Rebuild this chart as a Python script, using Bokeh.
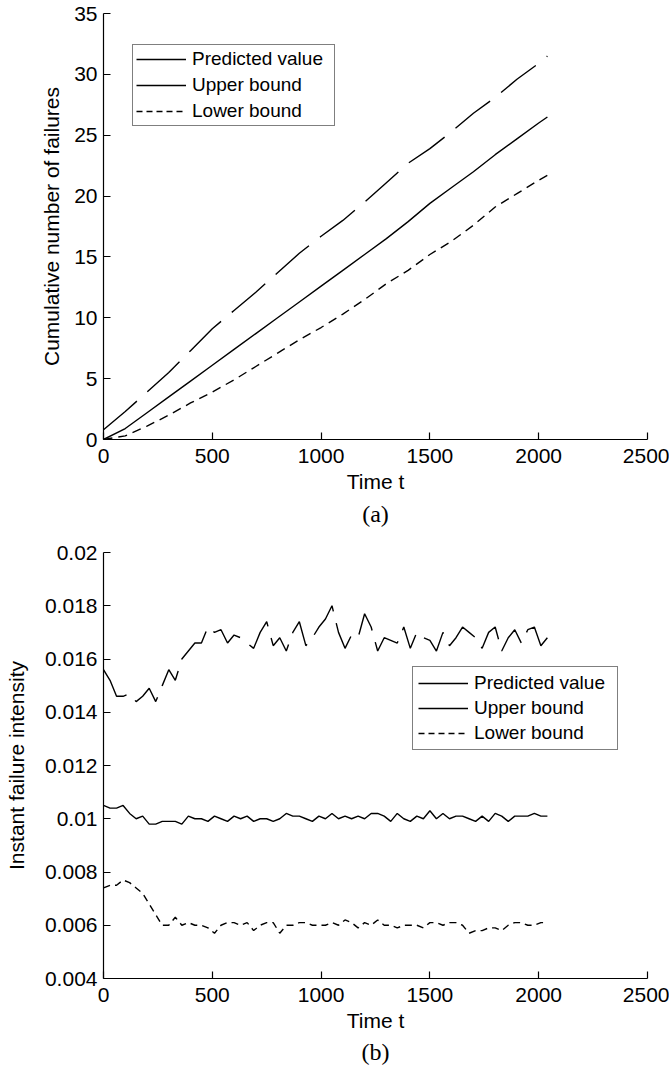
import numpy as np
from bokeh.plotting import figure
from bokeh.models import (ColumnDataSource, Legend, LegendItem, Title, FixedTicker,
                          CustomJSTickFormatter, Range1d)
from bokeh.layouts import column
from bokeh.embed import file_html
from bokeh.resources import INLINE

SANS = "Liberation Sans"
SERIF = "Liberation Serif"

# ---------------- data: panel (a) ----------------
t_a = [0, 100, 200, 300, 400, 500, 600, 700, 800, 900, 1000,
       1100, 1200, 1300, 1400, 1500, 1600, 1700, 1800, 1900, 2000, 2040]
pred_a = [0.0, 0.9, 2.2, 3.5, 4.8, 6.1, 7.4, 8.7, 10.0, 11.3, 12.6,
          13.9, 15.2, 16.5, 17.9, 19.4, 20.7, 22.0, 23.4, 24.7, 26.0, 26.5]
upper_a = [0.8, 2.3, 3.9, 5.5, 7.3, 9.1, 10.6, 12.1, 13.7, 15.3, 16.7,
           18.0, 19.5, 21.1, 22.7, 23.9, 25.3, 26.8, 28.1, 29.6, 30.9, 31.5]
lower_a = [0.0, 0.3, 1.1, 2.0, 3.0, 3.9, 4.9, 6.0, 7.1, 8.2, 9.2,
           10.3, 11.5, 12.8, 13.9, 15.2, 16.3, 17.6, 19.1, 20.2, 21.3, 21.7]

# ---------------- data: panel (b) ----------------
t_b = list(range(0, 2041, 30))
pred_b = [0.0105, 0.0104, 0.0104, 0.0105, 0.0102, 0.0100, 0.0101, 0.0098, 0.0098, 0.0099,
          0.0099, 0.0099, 0.0098, 0.0101, 0.0100, 0.0100, 0.0099, 0.0101, 0.0100, 0.0099,
          0.0101, 0.0100, 0.0101, 0.0099, 0.0100, 0.0100, 0.0099, 0.0100, 0.0102, 0.0101,
          0.0101, 0.0100, 0.0099, 0.0101, 0.0100, 0.0102, 0.0100, 0.0101, 0.0100, 0.0101,
          0.0100, 0.0102, 0.0102, 0.0101, 0.0099, 0.0102, 0.0100, 0.0099, 0.0101, 0.0100,
          0.0103, 0.0100, 0.0102, 0.0100, 0.0101, 0.0101, 0.0100, 0.0099, 0.0101, 0.0099,
          0.0102, 0.0101, 0.0099, 0.0101, 0.0101, 0.0101, 0.0102, 0.0101, 0.0101]
upper_b = [0.0156, 0.0152, 0.0146, 0.0146, 0.0147, 0.0144, 0.0146, 0.0149, 0.0144, 0.0150,
           0.0156, 0.0152, 0.0160, 0.0163, 0.0166, 0.0166, 0.0172, 0.0170, 0.0171, 0.0166,
           0.0169, 0.0168, 0.0166, 0.0164, 0.0170, 0.0174, 0.0165, 0.0168, 0.0163, 0.0170,
           0.0174, 0.0165, 0.0168, 0.0172, 0.0175, 0.0180, 0.0170, 0.0164, 0.0169, 0.0168,
           0.0177, 0.0172, 0.0163, 0.0168, 0.0167, 0.0166, 0.0172, 0.0164, 0.0170, 0.0168,
           0.0167, 0.0163, 0.0170, 0.0165, 0.0168, 0.0172, 0.0170, 0.0168, 0.0164, 0.0170,
           0.0172, 0.0163, 0.0168, 0.0171, 0.0166, 0.0171, 0.0172, 0.0165, 0.0168]
lower_b = [0.0074, 0.0075, 0.0075, 0.0077, 0.0076, 0.0074, 0.0072, 0.0068, 0.0064, 0.0060,
           0.0060, 0.0063, 0.0060, 0.0061, 0.0060, 0.0060, 0.0059, 0.0057, 0.0060, 0.0061,
           0.0061, 0.0060, 0.0061, 0.0058, 0.0060, 0.0061, 0.0061, 0.0057, 0.0060, 0.0060,
           0.0061, 0.0061, 0.0060, 0.0060, 0.0060, 0.0061, 0.0060, 0.0062, 0.0061, 0.0059,
           0.0061, 0.0060, 0.0062, 0.0060, 0.0060, 0.0059, 0.0060, 0.0060, 0.0060, 0.0059,
           0.0061, 0.0061, 0.0060, 0.0061, 0.0061, 0.0060, 0.0057, 0.0058, 0.0058, 0.0059,
           0.0059, 0.0058, 0.0060, 0.0061, 0.0061, 0.0060, 0.0060, 0.0061, 0.0061]

x_ticks = [0, 500, 1000, 1500, 2000, 2500]
y_ticks_a = [0, 5, 10, 15, 20, 25, 30, 35]
y_ticks_b = [0.004, 0.006, 0.008, 0.01, 0.012, 0.014, 0.016, 0.018, 0.02]
legend_labels = ["Predicted value", "Upper bound", "Lower bound"]

LW = 1.4


def style(p, yticks, xlabel, ylabel, ylabel_standoff):
    p.outline_line_color = None
    p.xgrid.visible = False
    p.ygrid.visible = False
    p.background_fill_color = "white"
    p.border_fill_color = "white"
    p.xaxis.ticker = FixedTicker(ticks=x_ticks, minor_ticks=[])
    p.yaxis.ticker = FixedTicker(ticks=yticks, minor_ticks=[])
    p.xaxis.axis_label = xlabel
    p.yaxis.axis_label = ylabel
    for ax in (p.xaxis[0], p.yaxis[0]):
        ax.axis_line_color = "black"
        ax.axis_line_width = 1.2
        ax.major_tick_line_color = "black"
        ax.major_tick_line_width = 1.2
        ax.major_tick_in = 7
        ax.major_tick_out = 0
        ax.minor_tick_in = 0
        ax.minor_tick_out = 0
        ax.major_label_text_font = SANS
        ax.major_label_text_font_size = "21px"
        ax.major_label_text_color = "black"
        ax.axis_label_text_font = SANS
        ax.axis_label_text_font_size = "21px"
        ax.axis_label_text_font_style = "normal"
        ax.axis_label_text_color = "black"
    p.xaxis.major_label_standoff = 9
    p.xaxis.axis_label_standoff = 4
    p.yaxis.major_label_standoff = 6
    p.yaxis.axis_label_standoff = ylabel_standoff


def add_legend(p, r_pred, loc, padding, spacing, label_width):
    nan_src = ColumnDataSource(data=dict(x=np.array([np.nan, np.nan]),
                                         y=np.array([np.nan, np.nan])))
    r_up = p.line("x", "y", source=nan_src, line_color="black", line_width=LW)
    r_lo = p.line("x", "y", source=nan_src, line_color="black", line_width=LW,
                  line_dash="6 4")
    leg = Legend(items=[LegendItem(label=legend_labels[0], renderers=[r_pred]),
                        LegendItem(label=legend_labels[1], renderers=[r_up]),
                        LegendItem(label=legend_labels[2], renderers=[r_lo])],
                 location=loc)
    leg.border_line_color = "black"
    leg.border_line_width = 1.2
    leg.background_fill_color = "white"
    leg.background_fill_alpha = 1
    leg.label_text_font = SANS
    leg.label_text_font_size = "19px"
    leg.label_text_color = "black"
    leg.glyph_width = 50
    leg.glyph_height = 20
    leg.label_height = 20
    leg.label_width = label_width
    leg.label_standoff = 6
    leg.padding = padding
    leg.spacing = spacing
    leg.margin = 0
    p.add_layout(leg)


# ---------------- panel (a) ----------------
pa = figure(width=669, height=535, output_backend="svg", toolbar_location=None,
            x_range=Range1d(0, 2500), y_range=Range1d(0, 35),
            min_border_left=103, min_border_right=22, min_border_top=13,
            min_border_bottom=96)
style(pa, y_ticks_a, "Time t", "Cumulative number of failures", 8)
src_a = ColumnDataSource(data=dict(t=t_a, pred=pred_a, upper=upper_a, lower=lower_a))
ra_pred = pa.line("t", "pred", source=src_a, line_color="black", line_width=LW)
pa.line("t", "upper", source=src_a, line_color="black", line_width=LW, line_dash="44 14")
pa.line("t", "lower", source=src_a, line_color="black", line_width=LW, line_dash="9 6")
add_legend(pa, ra_pred, (29, 313), 3, 4, 139)
pa.add_layout(Title(text="(a)", align="center", text_font=SERIF, text_font_size="24px",
                    text_font_style="normal", text_color="black", standoff=6), "below")

# ---------------- panel (b) ----------------
pb = figure(width=669, height=536, output_backend="svg", toolbar_location=None,
            x_range=Range1d(0, 2500), y_range=Range1d(0.004, 0.02),
            min_border_left=103, min_border_right=22, min_border_top=17,
            min_border_bottom=93)
style(pb, y_ticks_b, "Time t", "Instant failure intensity", 14)
pb.yaxis.formatter = CustomJSTickFormatter(code="return String(parseFloat(tick.toFixed(4)));")
src_b = ColumnDataSource(data=dict(t=t_b, pred=pred_b, upper=upper_b, lower=lower_b))
rb_pred = pb.line("t", "pred", source=src_b, line_color="black", line_width=LW)
pb.line("t", "upper", source=src_b, line_color="black", line_width=LW, line_dash="40 12")
pb.line("t", "lower", source=src_b, line_color="black", line_width=LW, line_dash="7 5")
add_legend(pb, rb_pred, (309, 228), 5, 3, 138)
pb.add_layout(Title(text="(b)", align="center", text_font=SERIF, text_font_size="24px",
                    text_font_style="normal", text_color="black", standoff=4), "below")

layout = column(pa, pb, spacing=0)
open("out.html", "w").write(file_html(layout, INLINE))
